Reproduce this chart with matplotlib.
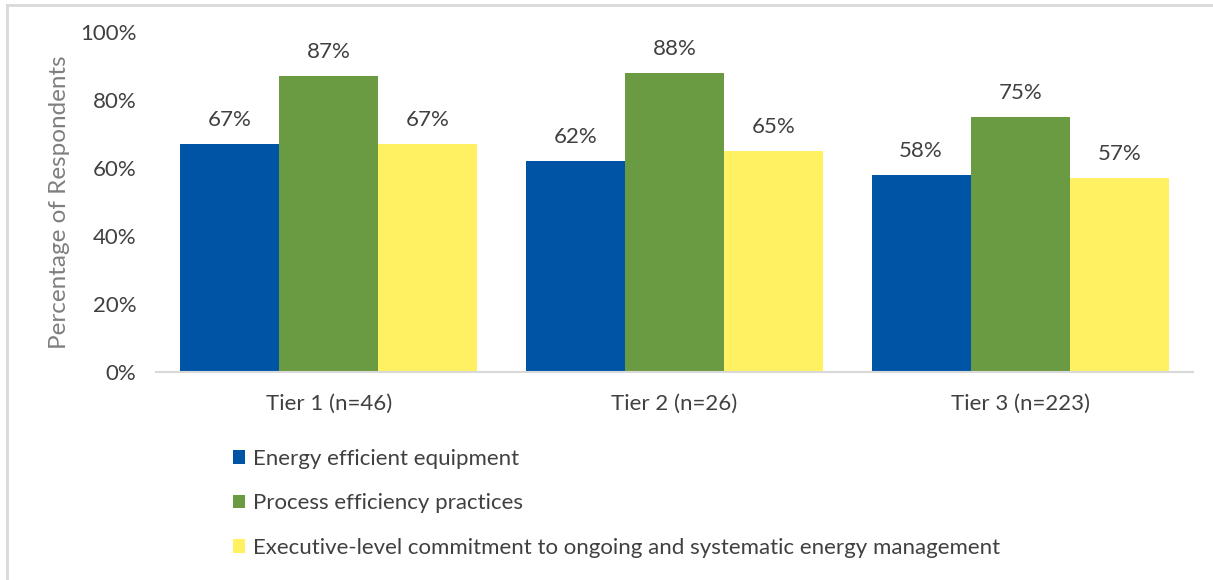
import matplotlib
matplotlib.use("Agg")
import matplotlib.pyplot as plt
from matplotlib.patches import Patch
from matplotlib.lines import Line2D
import numpy as np

plt.rcParams['font.family'] = ['Lato', 'DejaVu Sans']

categories = ["Tier 1 (n=46)", "Tier 2 (n=26)", "Tier 3 (n=223)"]
series_names = [
    "Energy efficient equipment",
    "Process efficiency practices",
    "Executive-level commitment to ongoing and systematic energy management",
]
equipment = [67, 62, 58]
practices = [87, 88, 75]
commitment = [67, 65, 57]
yticks = [0, 20, 40, 60, 80, 100]

colors = ["#0054A6", "#6A9A41", "#FFF162"]
text_color = "#404040"

fig = plt.figure(figsize=(12.13, 5.80), dpi=100)
ax = fig.add_axes([156 / 1213, 208 / 580, 1037 / 1213, 340 / 580])

x = np.arange(len(categories))
width = 0.2865
for i, (vals, col) in enumerate(zip([equipment, practices, commitment], colors)):
    bars = ax.bar(x + (i - 1) * width, vals, width, color=col, edgecolor='none', zorder=2)
    for b, v in zip(bars, vals):
        ax.annotate(f"{v}%", (b.get_x() + b.get_width() / 2, v),
                    xytext=(0, 10), textcoords='offset points',
                    ha='center', va='bottom', fontsize=16, color=text_color)

ax.set_xlim(-0.5, 2.5)
ax.set_ylim(0, 100)
ax.set_yticks(yticks)
ax.set_yticklabels([f"{t}%" for t in yticks])
ax.set_xticks(x)
ax.set_xticklabels(categories)
ax.tick_params(axis='y', length=0, pad=14, labelsize=16, labelcolor=text_color)
ax.tick_params(axis='x', length=0, pad=16, labelsize=16, labelcolor=text_color)
for s in ['top', 'right', 'left']:
    ax.spines[s].set_visible(False)
ax.spines['bottom'].set_color('#d9d9d9')
ax.spines['bottom'].set_linewidth(1.5)

fig.text(60 / 1213, 1 - 202 / 580, "Percentage of Respondents", rotation=90,
         ha='center', va='center', fontsize=17.5, color='#7f7f7f')

handles = [Patch(facecolor=c, edgecolor='none') for c in colors]
fig.legend(handles, series_names, loc='upper left',
           bbox_to_anchor=(233 / 1213, 1 - 449 / 580),
           frameon=False, fontsize=16, labelcolor=text_color,
           handlelength=0.55, handleheight=0.55, handletextpad=0.36,
           labelspacing=1.1, borderpad=0, borderaxespad=0)

# thin frame lines on the left and top edges of the canvas
fig.add_artist(Line2D([7 / 1213, 7 / 1213], [0, 1 - 5 / 580], transform=fig.transFigure,
                      color='#d9d9d9', linewidth=2))
fig.add_artist(Line2D([7 / 1213, 1], [1 - 5 / 580, 1 - 5 / 580], transform=fig.transFigure,
                      color='#d9d9d9', linewidth=2))

fig.savefig("out.png", dpi=100)
